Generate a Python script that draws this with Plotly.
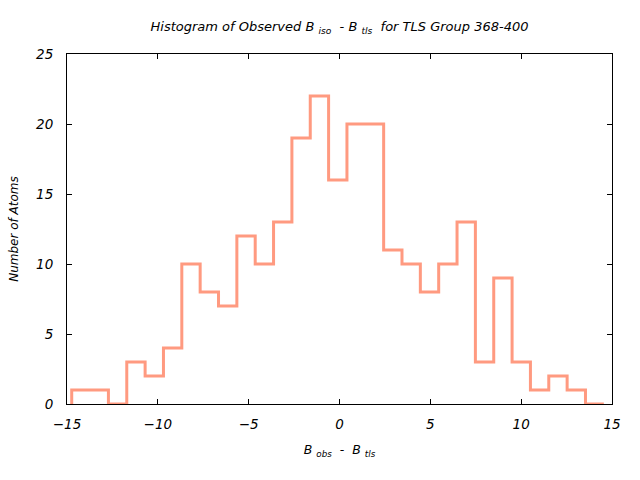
import plotly.graph_objects as go

bin_start = -14.74
bin_width = 1.01
counts = [1, 1, 0, 3, 2, 4, 10, 8, 7, 12, 10, 13, 19, 22, 16, 20, 20,
          11, 10, 8, 10, 13, 3, 9, 3, 1, 2, 1, 0]
x_ticks = [-15, -10, -5, 0, 5, 10, 15]
y_ticks = [0, 5, 10, 15, 20, 25]

edges = [bin_start + i * bin_width for i in range(len(counts) + 1)]
xs = [edges[0]] + edges[:-1] + [edges[-1]]
ys = [0] + counts + [counts[-1]]

font_family = "DejaVu Sans"
fig = go.Figure()
fig.add_trace(go.Scatter(x=xs, y=ys, mode="lines", line_shape="hv",
                         line=dict(color="#FF9A80", width=3), showlegend=False))

axis_common = dict(showline=True, linecolor="black", linewidth=1, mirror="allticks",
                   ticks="inside", ticklen=5, tickcolor="black", showgrid=False,
                   zeroline=False,
                   tickfont=dict(family=font_family, size=13.5, color="black", style="italic"))

fig.update_xaxes(range=[-15, 15], tickvals=x_ticks, ticklabelstandoff=8, **axis_common,
                 title=dict(text="B <sub>obs</sub>  -  B <sub>tls</sub>",
                            font=dict(family=font_family, size=12.5, color="black", style="italic"),
                            standoff=14))
fig.update_yaxes(range=[0, 25], tickvals=y_ticks, ticklabelstandoff=10, **axis_common,
                 title=dict(text="Number of Atoms",
                            font=dict(family=font_family, size=12, color="black", style="italic"),
                            standoff=14))

fig.update_layout(
    width=640, height=480,
    margin=dict(l=67, r=28, t=54, b=76, autoexpand=False),
    plot_bgcolor="white", paper_bgcolor="white",
    title=dict(text="Histogram of Observed B <sub>iso</sub>  - B <sub>tls</sub>  for TLS Group 368-400",
               xref="paper", x=0.5, xanchor="center", y=0.944, yanchor="middle",
               font=dict(family=font_family, size=13, color="black", style="italic")),
)

fig.write_html("out.html", config={"displayModeBar": False},
               post_script="document.body.style.margin='0px';")
